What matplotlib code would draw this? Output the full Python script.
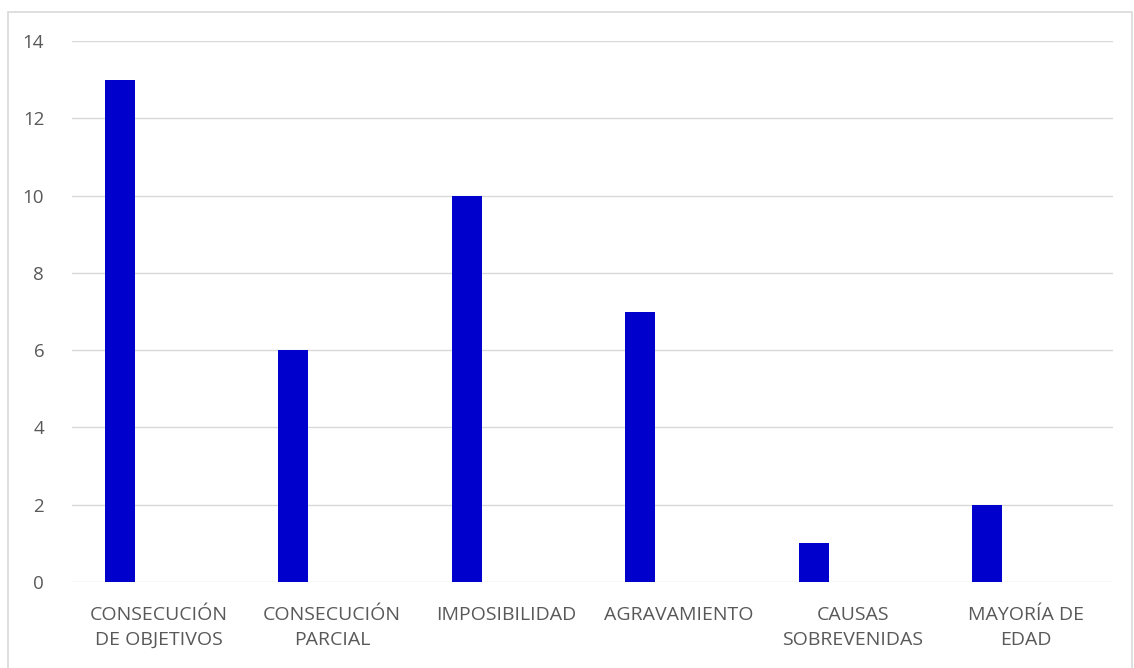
import matplotlib.pyplot as plt
import numpy as np
from matplotlib.patches import Rectangle

categories = ["CONSECUCIÓN\nDE OBJETIVOS", "CONSECUCIÓN\nPARCIAL", "IMPOSIBILIDAD",
              "AGRAVAMIENTO", "CAUSAS\nSOBREVENIDAS", "MAYORÍA DE\nEDAD"]
values = [13, 6, 10, 7, 1, 2]
yticks = [0, 2, 4, 6, 8, 10, 12, 14]

plt.rcParams['font.family'] = ['Open Sans', 'DejaVu Sans']

fig = plt.figure(figsize=(11.34, 6.68), dpi=100)
fig.patches.append(Rectangle((8 / 1134, -0.05), 1124 / 1134, 1 - 12 / 668 + 0.05,
                             transform=fig.transFigure, fill=False,
                             edgecolor='#d9d9d9', linewidth=1.2))
ax = fig.add_axes([72 / 1134, 1 - 582 / 668, (1113 - 72) / 1134, (582 - 41) / 668])

x = np.arange(len(categories))
ax.bar(x - 0.225, values, width=0.173, color='#0000cc', zorder=3)

ax.set_xlim(-0.5, len(categories) - 0.5)
ax.set_ylim(0, 14)
ax.set_yticks(yticks)
ax.set_xticks(x)
ax.set_xticklabels(categories, fontsize=14, color='#595959', linespacing=1.5)
ax.tick_params(axis='y', labelsize=13.5, labelcolor='#595959', length=0, pad=20)
ax.tick_params(axis='x', length=0, pad=17)
ax.grid(axis='y', color='#d9d9d9', linewidth=1, zorder=0)
for s in ax.spines.values():
    s.set_visible(False)

fig.savefig('out.png', dpi=100)
